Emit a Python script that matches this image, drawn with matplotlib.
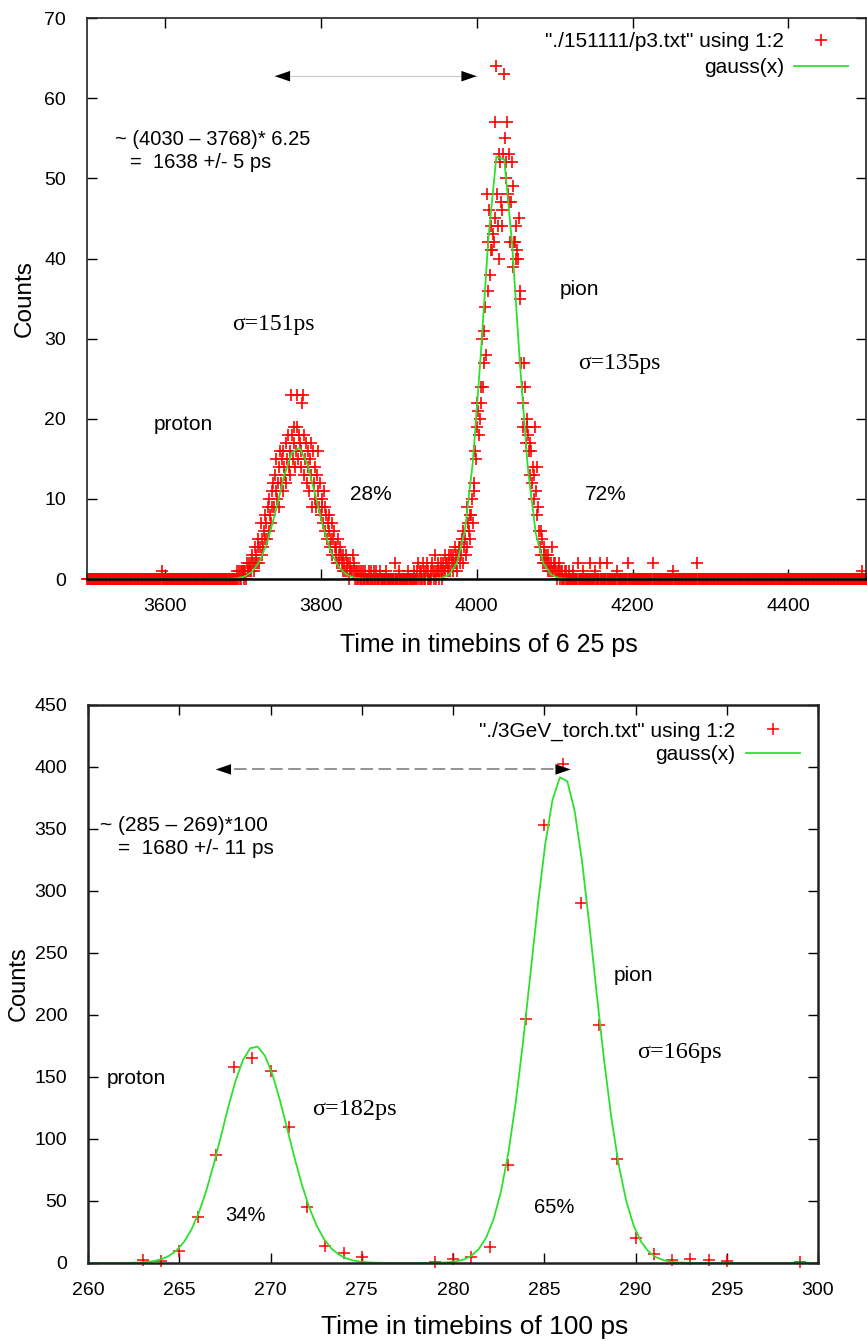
import numpy as np
import matplotlib
matplotlib.use("Agg")
import matplotlib.pyplot as plt

plt.rcParams['font.family'] = ['Liberation Sans', 'DejaVu Sans']

# ---------------- top panel: 6.25 ps bins ----------------
top_bins = np.arange(3500, 4501)

proton_start = 3690
proton_counts = [
    0, 0, 1, 0, 0, 1, 0, 1, 0, 1,
    1, 0, 1, 1, 0, 2, 1, 1, 2, 1,
    2, 1, 3, 2, 1, 2, 4, 3, 2, 4,
    5, 2, 4, 7, 3, 5, 4, 6, 8, 5,
    7, 5, 9, 6, 10, 8, 7, 11, 9, 12,
    9, 13, 11, 15, 10, 12, 14, 9, 16, 12,
    15, 11, 16, 14, 13, 17, 12, 15, 18, 14,
    16, 13, 23, 18, 15, 17, 19, 14, 16, 23,
    19, 15, 18, 17, 14, 16, 22, 23, 13, 18,
    15, 17, 12, 16, 14, 11, 15, 13, 17, 9,
    16, 12, 14, 10, 9, 13, 11, 16, 9, 12,
    8, 10, 9, 7, 11, 6, 9, 8, 5, 7,
    6, 8, 4, 5, 7, 3, 5, 6, 4, 3,
    4, 2, 5, 3, 2, 4, 3, 2, 1, 3,
    2, 1, 3, 2, 1, 2, 0, 1, 2, 1,
    1, 3, 1, 2, 0, 1, 0, 1, 0, 1,
    0, 1, 0, 0, 1, 0, 0, 1, 0, 0,
    0,
]

gap_start = 3861
gap_counts = [
    0, 1, 0, 0, 1, 0, 0, 1, 0, 0,
    1, 0, 0, 0, 0, 1, 0, 0, 0, 0,
    0, 0, 0, 1, 0, 0, 0, 0, 0, 0,
    0, 0, 0, 0, 2, 0, 0, 0, 0, 1,
    0, 0, 0, 0, 0, 0, 0, 0, 0, 0,
    0, 1, 0, 0, 0, 0, 0, 0, 1, 0,
    0, 0, 1, 0, 2, 0, 1, 0, 1, 0,
    2, 0, 1, 0, 1, 2, 0, 1, 0,
]

pion_start = 3940
pion_counts = [
    0, 1, 0, 2, 1, 0, 1, 3, 0, 1,
    1, 2, 0, 1, 2, 1, 0, 2, 1, 3,
    1, 2, 2, 1, 3, 2, 1, 3, 2, 1,
    3, 2, 4, 2, 3, 1, 3, 4, 2, 4,
    3, 5, 2, 6, 4, 5, 3, 9, 4, 7,
    6, 8, 5, 8, 10, 7, 12, 11, 16, 15,
    19, 22, 21, 18, 20, 24, 22, 30, 24, 27,
    31, 34, 28, 48, 36, 42, 46, 38, 41, 44,
    41, 43, 42, 45, 57, 64, 48, 44, 53, 40,
    52, 47, 44, 46, 53, 63, 55, 50, 52, 57,
    48, 53, 47, 42, 47, 52, 49, 39, 42, 42,
    44, 40, 41, 40, 45, 36, 35, 27, 24, 19,
    22, 27, 24, 17, 19, 20, 18, 16, 13, 17,
    16, 12, 14, 13, 10, 19, 11, 8, 14, 9,
    6, 4, 3, 6, 5, 2, 4, 3, 2, 3,
    2, 1, 3, 2, 1, 2, 1, 4, 1, 2,
    1, 2, 1, 0, 1, 2, 1, 0, 1, 0,
    1, 0, 0, 1, 0, 1, 0, 0, 1, 0,
    0,
]

lone_x = [3596, 4124, 4130, 4137, 4145, 4152, 4158, 4167, 4180, 4194, 4226, 4252, 4283, 4495]
lone_y = [1, 1, 2, 1, 2, 1, 2, 2, 1, 2, 2, 1, 2, 1]

# fit: two gaussians (amp, mean, sigma in bins)
top_fit = [(16.5, 3770, 151 / 6.25), (54.0, 4030, 135 / 6.25)]

# ---------------- bottom panel: 100 ps bins ----------------
bot_x = [263, 264, 265, 266, 267, 268, 269, 270, 271, 272, 273, 274, 275,
         279, 280, 281, 282, 283, 284, 285, 286, 287, 288, 289, 290, 291,
         292, 293, 294, 295, 299]
bot_y = [2.5, 1.5, 10, 37, 87, 158, 165, 155, 110, 45, 14, 8, 5,
         0.5, 3, 5, 13, 79, 197, 353, 402, 290, 192, 84, 20, 7,
         2.5, 3, 2.5, 1.5, 0.5]
bot_fit = [(175, 269.15, 1.80), (393, 286.0, 1.72)]

top_counts = np.zeros(len(top_bins))
for start, seg in [(proton_start, proton_counts), (gap_start, gap_counts), (pion_start, pion_counts)]:
    i0 = start - top_bins[0]
    top_counts[i0:i0 + len(seg)] = seg
for x, y in zip(lone_x, lone_y):
    top_counts[x - top_bins[0]] = y


def gauss(x, pars):
    return sum(a * np.exp(-(x - m) ** 2 / (2 * s ** 2)) for a, m, s in pars)


RED = '#ff0000'
GREEN = '#2ee02e'

fig = plt.figure(figsize=(8.67, 13.41), dpi=100)
ax1 = fig.add_axes([0.1003, 0.5682, 0.8990, 0.4183])
ax2 = fig.add_axes([0.1015, 0.0582, 0.8420, 0.4161])

# ---- top ----
ax1.plot(top_bins, top_counts, '+', color=RED, ms=9, mew=1.2, clip_on=False,
         label='"./151111/p3.txt" using 1:2', zorder=2)
xs = np.linspace(3500, 4500, 100)   # gnuplot default samples
ax1.plot(xs, gauss(xs, top_fit), color=GREEN, lw=1.3, label='gauss(x)', zorder=3)
ax1.set_xlim(3500, 4500)
ax1.set_ylim(0, 70)
ax1.set_xticks(np.arange(3600, 4401, 200))
ax1.set_yticks(np.arange(0, 71, 10))
ax1.set_xlabel('Time in timebins of 6 25 ps', fontsize=18)
ax1.set_ylabel('Counts', fontsize=17.5)
ax1.xaxis.set_label_coords(0.516, -0.097)
ax1.yaxis.set_label_coords(-0.066, 0.5)

ax1.plot([3741, 4000], [62.75, 62.75], color='#c8c8c8', lw=0.8, zorder=1)
for tip, tail in [(3741, 3760), (4000, 3981)]:
    ax1.annotate('', xy=(tip, 62.75), xytext=(tail, 62.75),
                 arrowprops=dict(arrowstyle='-|>,head_length=1.1,head_width=0.38',
                                 color='black', lw=0, shrinkA=0, shrinkB=0, mutation_scale=10))

ax1.text(3536, 54.9, '~ (4030 – 3768)* 6.25', fontsize=14.5, va='center')
ax1.text(3555, 52.0, '=  1638 +/- 5 ps', fontsize=14.5, va='center')
ax1.text(3686, 31.75, 'σ=151ps', fontsize=17, family='Liberation Serif', va='center')
ax1.text(3585, 19.25, 'proton', fontsize=15, va='center')
ax1.text(4107, 36.1, 'pion', fontsize=15, va='center')
ax1.text(4130, 26.9, 'σ=135ps', fontsize=17, family='Liberation Serif', va='center')
ax1.text(3838, 10.5, '28%', fontsize=15, va='center')
ax1.text(4139, 10.5, '72%', fontsize=15, va='center')

ax1.legend(loc='upper right', bbox_to_anchor=(0.977, 0.975), frameon=False,
           markerfirst=False, fontsize=15, handlelength=2.6, handletextpad=0.5,
           labelspacing=0.35, borderaxespad=0, borderpad=0)

# ---- bottom ----
ax2.plot(bot_x, bot_y, '+', color=RED, ms=8, mew=1.1, clip_on=False,
         label='"./3GeV_torch.txt" using 1:2', zorder=2)
xs2 = np.linspace(260, 300, 100)
ax2.plot(xs2, gauss(xs2, bot_fit), color=GREEN, lw=1.3, label='gauss(x)', zorder=3)
ax2.set_xlim(260, 300)
ax2.set_ylim(0, 450)
ax2.set_xticks(np.arange(260, 301, 5))
ax2.set_yticks(np.arange(0, 451, 50))
ax2.set_xlabel('Time in timebins of 100 ps', fontsize=19)
ax2.set_ylabel('Counts', fontsize=17)
ax2.xaxis.set_label_coords(0.53, -0.094)
ax2.yaxis.set_label_coords(-0.08, 0.5)

ax2.plot([268.0, 285.6], [398, 398], color='#8a8a8a', lw=1.3, dashes=(7, 3), zorder=1)
for tip, tail in [(267.0, 267.85), (286.45, 285.6)]:
    ax2.annotate('', xy=(tip, 398), xytext=(tail, 398),
                 arrowprops=dict(arrowstyle='-|>,head_length=1.1,head_width=0.38',
                                 color='black', lw=0, shrinkA=0, shrinkB=0, mutation_scale=10))

ax2.text(260.66, 352.4, '~ (285 – 269)*100', fontsize=15, va='center')
ax2.text(261.65, 333.9, '=  1680 +/- 11 ps', fontsize=15, va='center')
ax2.text(288.8, 232, 'pion', fontsize=15, va='center')
ax2.text(290.1, 170, 'σ=166ps', fontsize=17.5, family='Liberation Serif', va='center')
ax2.text(261.0, 148.4, 'proton', fontsize=15, va='center')
ax2.text(272.3, 123.4, 'σ=182ps', fontsize=17.5, family='Liberation Serif', va='center')
ax2.text(267.5, 37.9, '34%', fontsize=14.5, va='center')
ax2.text(284.45, 44.4, '65%', fontsize=14.5, va='center')

ax2.legend(loc='upper right', bbox_to_anchor=(0.975, 0.97), frameon=False,
           markerfirst=False, fontsize=15, handlelength=2.6, handletextpad=0.5,
           labelspacing=0.2, borderaxespad=0, borderpad=0)

for ax, lw in [(ax1, 1.2), (ax2, 1.8)]:
    ax.tick_params(direction='in', length=7, width=1, top=True, right=True,
                   labelsize=14)
    ax.tick_params(axis='x', pad=14)
    ax.tick_params(axis='y', pad=15)
    for sp in ax.spines.values():
        sp.set_linewidth(lw)
        sp.set_color('#222222')
        sp.set_zorder(4)
ax1.spines['bottom'].set_linewidth(1.8)
ax1.spines['bottom'].set_color('black')

fig.savefig('out.png', dpi=100)
